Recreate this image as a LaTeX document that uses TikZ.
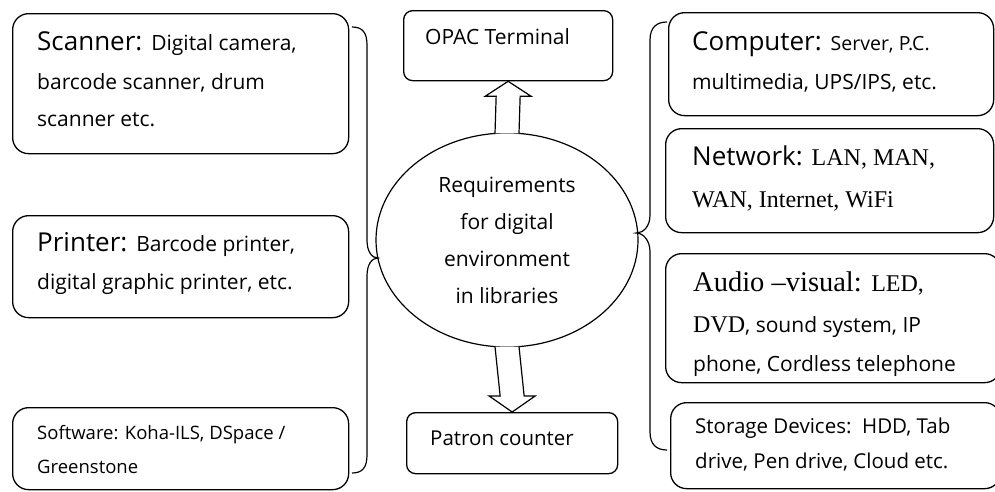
\documentclass[tikz,border=0pt]{standalone}
\usepackage{fontspec}
\setmainfont{Open Sans}
\newfontfamily\serifff{Liberation Serif}
\usetikzlibrary{shapes.geometric,calc}
\newcommand\HdF{\rmfamily\fontsize{26}{30}\selectfont}
\newcommand\BdF{\rmfamily\fontsize{21}{25}\selectfont}
\newcommand\SmF{\rmfamily\fontsize{19.5}{23}\selectfont}
\newcommand\StF{\rmfamily\fontsize{20.5}{24}\selectfont}
\newcommand\SoF{\rmfamily\fontsize{18.5}{22}\selectfont}
\newcommand\SerHd{\serifff\fontsize{28.5}{32}\selectfont}
\newcommand\SerBd{\serifff\fontsize{24}{28}\selectfont}
\tikzset{
  box/.style={draw, line width=1.3pt, rounded corners=16pt, anchor=north west, inner sep=0pt},
  smallbox/.style={box, rounded corners=9pt},
  txt/.style={anchor=mid west, inner sep=0pt, align=left, font=\BdF},
  sotxt/.style={txt, font=\SoF},
  sttxt/.style={txt, font=\StF},
  blockarrow/.style={draw, line width=1.2pt, fill=white, line join=miter},
  bracepath/.style={draw, line width=1.2pt},
}
\begin{document}
\begin{tikzpicture}[x=1pt,y=-1pt]
\useasboundingbox (0,0) rectangle (995,491);

% left boxes
\node[box, minimum width=336pt, minimum height=140pt] (scan) at (12,13) {};
\node[box, minimum width=336pt, minimum height=102pt] (prnt) at (12,215) {};
\node[box, minimum width=336pt, minimum height=82pt] (soft) at (12,407) {};

% centre boxes
\node[smallbox, minimum width=209pt, minimum height=70pt] (opac) at (403,10) {};
\node[smallbox, minimum width=211pt, minimum height=61pt] (patr) at (406,412) {};

% right boxes
\node[box, minimum width=325pt, minimum height=103pt] (comp) at (668,12) {};
\node[box, minimum width=328pt, minimum height=104pt] (netw) at (665,128) {};
\node[box, minimum width=335pt, minimum height=129pt] (audi) at (665,253) {};
\node[box, minimum width=330pt, minimum height=86pt] (stor) at (670,402) {};

% central ellipse
\node[draw, ellipse, line width=1.2pt, minimum width=262pt, minimum height=214pt,
      inner sep=0pt, align=center, font=\fontsize{21}{37}\selectfont] (ell) at (507,240)
      {Requirements\\for digital\\environment\\in libraries};

% block arrows
\draw[blockarrow] ($(ell.north)+(-12,1)$) -- ($(opac.south)+(-12,15)$) -- ($(opac.south)+(-23,15)$)
  -- (opac.south) -- ($(opac.south)+(23,15)$) -- ($(opac.south)+(12,15)$) -- ($(ell.north)+(12,1)$);
\draw[blockarrow] ($(ell.south)+(-12,-1)$) -- ($(patr.north)+(-12,-16)$) -- ($(patr.north)+(-23,-16)$)
  -- (patr.north) -- ($(patr.north)+(23,-16)$) -- ($(patr.north)+(12,-16)$) -- ($(ell.south)+(12,-1)$);

% braces
\coordinate (lbt) at (378,258);
\coordinate (rbt) at (636,233);
\draw[bracepath] (352,27) .. controls (362,27) and (367,32) .. (367,45) -- (367,240)
  .. controls (367,252) and (372,258) .. (lbt) .. controls (372,258) and (367,264) .. (367,276)
  -- (367,455) .. controls (367,468) and (362,473) .. (352,473);
\draw[bracepath] (667,22) .. controls (657,22) and (650,27) .. (650,40) -- (650,215)
  .. controls (650,227) and (643,233) .. (rbt) .. controls (643,233) and (650,240) .. (650,252)
  -- (650,432) .. controls (650,445) and (657,450) .. (667,450);

% texts left
\node[txt] (sc1) at (37,48) {\HdF Scanner: \BdF Digital camera,};
\node[txt] (sc2) at (37,87) {barcode scanner, drum};
\node[txt] (sc3) at (37,124) {scanner etc.};
\node[txt] (pr1) at (37,249) {\HdF Printer: \BdF Barcode printer,};
\node[txt] (pr2) at (37,287) {digital graphic printer, etc.};
\node[sotxt] (so1) at (37,437) {Software: Koha-ILS, DSpace /};
\node[sotxt] (so2) at (37,471) {Greenstone};

% texts centre
\node[txt] (op1) at (425,42) {OPAC Terminal};
\node[txt, font=\fontsize{20.5}{24}\selectfont] (pa1) at (430,443) {Patron counter};

% texts right
\node[txt] (co1) at (692,48) {\HdF Computer: \SmF Server, P.C.};
\node[txt] (co2) at (692,87) {multimedia, UPS/IPS, etc.};
\node[txt] (ne1) at (692,163) {\HdF Network: \SerBd LAN, MAN,};
\node[txt] (ne2) at (692,205) {\SerBd WAN, Internet, WiFi};
\node[txt] (au1) at (693,289) {\SerHd Audio –visual: \SerBd LED,};
\node[txt] (au2) at (693,330) {\SerBd DVD\BdF, sound system, IP};
\begin{scope}
  \clip (660,340) rectangle (1000,377);
  \node[txt] (au3) at (693,369) {phone, Cordless telephone};
\end{scope}
\node[sttxt] (st1) at (695,431) {Storage Devices:\ \ HDD, Tab};
\node[sttxt] (st2) at (695,466) {drive, Pen drive, Cloud etc.};
\end{tikzpicture}
\end{document}
